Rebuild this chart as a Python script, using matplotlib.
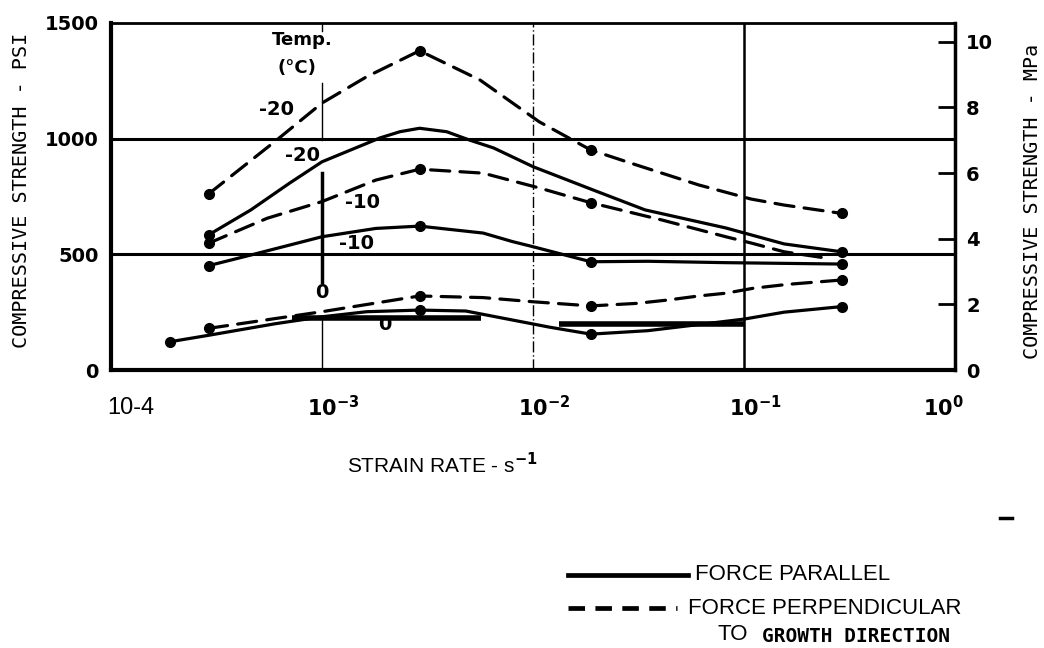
import matplotlib
matplotlib.use("Agg")
import matplotlib.pyplot as plt
from matplotlib.lines import Line2D
from matplotlib.transforms import offset_copy
import matplotlib.transforms as mtransforms

# ---------------- data ----------------
# Force parallel (solid) curves, PSI vs strain rate (s^-1)
par_m20_x = [2.9e-4, 4.6e-4, 7e-4, 1.0e-3, 1.4e-3, 1.88e-3, 2.34e-3, 2.9e-3, 3.9e-3,
             5.0e-3, 6.5e-3, 1.0e-2, 1.88e-2, 3.4e-2, 8.2e-2, 0.155, 0.29]
par_m20_y = [584, 692, 807, 900, 955, 1003, 1030, 1045, 1030, 994, 960, 879, 782, 692,
             614, 545, 511]
par_m20_mark = [0, 16]

par_m10_x = [2.9e-4, 4.6e-4, 1e-3, 1.8e-3, 2.9e-3, 5.8e-3, 8e-3, 1e-2, 1.88e-2,
             3.5e-2, 8.2e-2, 0.29]
par_m10_y = [451, 497, 576, 612, 622, 592, 555, 533, 468, 470, 464, 458]
par_m10_mark = [0, 4, 8, 11]

par_0_x = [1.9e-4, 2.9e-4, 6e-4, 1e-3, 1.63e-3, 2.9e-3, 4.8e-3, 8e-3, 1.2e-2,
           1.88e-2, 3.5e-2, 0.1, 0.155, 0.29]
par_0_y = [122, 150, 200, 230, 252, 259, 255, 216, 185, 155, 170, 220, 250, 274]
par_0_mark = [0, 5, 9, 13]

# Force perpendicular (dashed) curves
perp_m20_x = [2.9e-4, 6.1e-4, 1e-3, 1.63e-3, 2.9e-3, 5.6e-3, 1.07e-2, 1.88e-2,
              3.1e-2, 6.1e-2, 0.108, 0.155, 0.29]
perp_m20_y = [761, 994, 1154, 1268, 1380, 1254, 1073, 951, 886, 800, 739, 713, 677]
perp_m20_mark = [0, 4, 7, 12]

perp_m10_x = [2.9e-4, 5.5e-4, 1e-3, 1.8e-3, 2.9e-3, 5.8e-3, 1.07e-2, 1.88e-2,
              4.1e-2, 8.2e-2, 0.108, 0.155, 0.24]
perp_m10_y = [548, 656, 728, 821, 868, 851, 787, 723, 648, 576, 549, 511, 485]
perp_m10_mark = [0, 4, 7]

perp_0_x = [2.9e-4, 1e-3, 2.9e-3, 5.8e-3, 1e-2, 1.88e-2, 3.1e-2, 4.4e-2, 6.1e-2,
            8.2e-2, 0.11, 0.16, 0.29]
perp_0_y = [180, 252, 320, 313, 295, 277, 288, 303, 320, 332, 353, 370, 389]
perp_0_mark = [0, 2, 5, 12]

# thick horizontal range bars near the 0 degC curves
bar_x0 = [7.2e-4, 1.33e-2]
bar_x1 = [5.7e-3, 0.1]
bar_y = [225, 197]

# curve labels
curve_labels = ["-20", "-20", "-10", "-10", "0", "0"]
curve_label_x = [6.1e-4, 8.1e-4, 1.56e-3, 1.46e-3, 1.0e-3, 1.99e-3]
curve_label_y = [1124, 929, 722, 545, 333, 195]

x_ticks = [1e-4, 1e-3, 1e-2, 1e-1, 1e0]
x_tick_labels = ["10-4", r"$\mathbf{10^{-3}}$", r"$\mathbf{10^{-2}}$",
                 r"$\mathbf{10^{-1}}$", r"$\mathbf{10^{0}}$"]
y_ticks = [0, 500, 1000, 1500]
mpa_ticks = [0, 2, 4, 6, 8, 10]

# ---------------- figure ----------------
W, H = 1044, 648
fig = plt.figure(figsize=(W / 100, H / 100), dpi=100)
fig.patch.set_facecolor("white")
plt.rcParams["mathtext.fontset"] = "dejavusans"
ax = fig.add_axes([111 / W, 1 - 370 / H, (955 - 111) / W, (370 - 23) / H])
ax.set_xscale("log")
ax.set_xlim(1e-4, 1e0)
ax.set_ylim(0, 1500)
ax.minorticks_off()

bold = dict(fontweight="bold", family="DejaVu Sans")
narrow = ["Liberation Sans", "DejaVu Sans"]

# grid lines
for yv in [500, 1000]:
    ax.axhline(yv, color="black", lw=2.2, zorder=1)
ax.axvline(1e-1, color="black", lw=1.8, zorder=1)
ax.axvline(1e-2, color="black", lw=1.0, ls=(0, (8, 2, 1, 2)), zorder=1)
for (y0, y1, lw) in [(1467, 1500, 1.0), (994, 1241, 1.0), (380, 852, 2.5), (0, 216, 1.0)]:
    ax.plot([1e-3, 1e-3], [y0, y1], color="black", lw=lw, zorder=1)

def draw(xs, ys, marks, dashed):
    kw = dict(color="black", lw=2.3, zorder=3, solid_capstyle="round",
              dash_capstyle="round")
    if dashed:
        kw["dashes"] = (6.0, 3.2)
    ax.plot(xs, ys, **kw)
    ax.plot([xs[i] for i in marks], [ys[i] for i in marks], "o", color="black",
            ms=7, zorder=4)

draw(par_m20_x, par_m20_y, par_m20_mark, False)
draw(par_m10_x, par_m10_y, par_m10_mark, False)
draw(par_0_x, par_0_y, par_0_mark, False)
draw(perp_m20_x, perp_m20_y, perp_m20_mark, True)
draw(perp_m10_x, perp_m10_y, perp_m10_mark, True)
draw(perp_0_x, perp_0_y, perp_0_mark, True)

for x0, x1, yv in zip(bar_x0, bar_x1, bar_y):
    ax.plot([x0, x1], [yv, yv], color="black", lw=4.0, solid_capstyle="butt", zorder=3)

for t, xv, yv in zip(curve_labels, curve_label_x, curve_label_y):
    ax.text(xv, yv, t, ha="center", va="center", fontsize=14, zorder=5, **bold)

ax.text(8.04e-4, 1427, "Temp.", ha="center", va="center", fontsize=13, **bold)
ax.text(7.6e-4, 1306, "(\u00b0C)", ha="center", va="center", fontsize=13, **bold)

# spines
for side, lw in [("left", 3.0), ("bottom", 3.0), ("top", 2.0), ("right", 2.5)]:
    ax.spines[side].set_linewidth(lw)

# left y ticks
ax.set_yticks(y_ticks)
ax.set_yticklabels([str(v) for v in y_ticks])
ax.tick_params(axis="y", length=0, pad=9, labelsize=14)
for lab in ax.get_yticklabels():
    lab.set_fontweight("bold")

# x tick labels as texts
ax.set_xticks([])
x_offsets = [20, 11, 11, 11, -12]
for xv, lab, off in zip(x_ticks, x_tick_labels, x_offsets):
    tr = mtransforms.blended_transform_factory(ax.transData, ax.transAxes)
    tr = offset_copy(tr, fig=fig, x=off, y=-38, units="dots")
    if lab == "10-4":
        ax.text(xv, 0, lab, transform=tr, ha="center", va="center", fontsize=17,
                family=narrow)
    else:
        ax.text(xv, 0, lab, transform=tr, ha="center", va="center", fontsize=15)

# right MPa axis
ax2 = ax.twinx()
ax2.set_ylim(0, 10.57)
ax2.set_yticks(mpa_ticks)
ax2.set_yticklabels([str(v) for v in mpa_ticks])
ax2.tick_params(axis="y", direction="in", length=12, width=2, pad=8, labelsize=14)
for lab in ax2.get_yticklabels():
    lab.set_fontweight("bold")
for s in ax2.spines.values():
    s.set_visible(False)

# axis titles
fig.text(22 / W, 1 - 190 / H, "COMPRESSIVE STRENGTH - PSI", rotation=90, ha="center",
         va="center", fontsize=14.5, family="DejaVu Sans Mono")
fig.text(1033 / W, 1 - 201 / H, "COMPRESSIVE STRENGTH - MPa", rotation=90, ha="center",
         va="center", fontsize=14.5, family="DejaVu Sans Mono")
fig.text(442 / W, 1 - 465 / H, r"STRAIN RATE - s$^{\mathbf{-1}}$", ha="center",
         va="center", fontsize=15, family=narrow)

# legend (drawn by hand)
fig.add_artist(Line2D([568 / W, 688 / W], [1 - 575 / H, 1 - 575 / H], color="black",
                      lw=3.4, transform=fig.transFigure))
fig.add_artist(Line2D([568 / W, 677 / W], [1 - 608 / H, 1 - 608 / H], color="black",
                      lw=3.4, dashes=(3.5, 2.2), transform=fig.transFigure))
fig.text(695 / W, 1 - 575 / H, "FORCE PARALLEL", ha="left", va="center", fontsize=16,
         family=narrow)
fig.text(688 / W, 1 - 608 / H, "FORCE PERPENDICULAR", ha="left", va="center",
         fontsize=16, family=narrow)
fig.text(718 / W, 1 - 635 / H, "TO", ha="left", va="center", fontsize=16,
         family=narrow)
fig.text(762 / W, 1 - 636 / H, "GROWTH DIRECTION", ha="left", va="center", fontsize=14,
         family="DejaVu Sans Mono", fontweight="bold")

# stray mark at right
fig.add_artist(Line2D([1000 / W, 1012 / W], [1 - 518 / H, 1 - 518 / H], color="black",
                      lw=2.5, transform=fig.transFigure))

fig.savefig("out.png", dpi=100, facecolor="white")
